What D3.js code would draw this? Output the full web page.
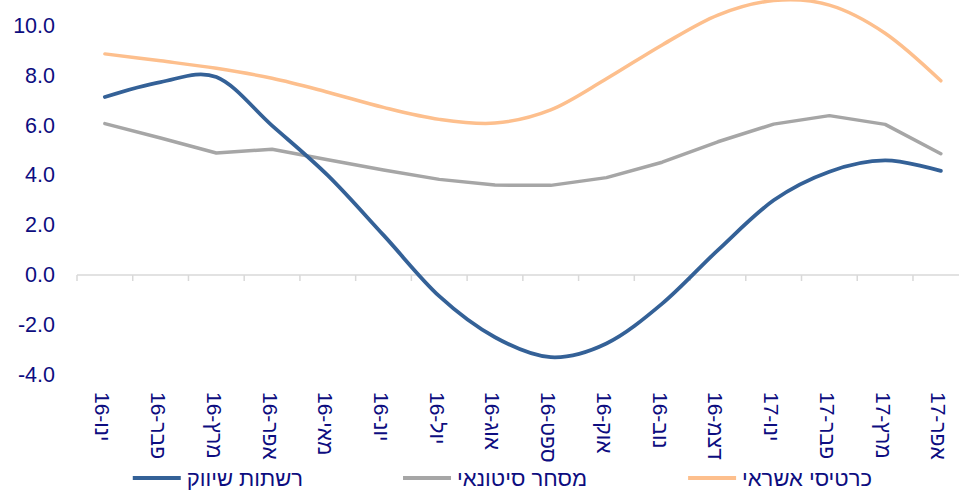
<!DOCTYPE html>
<html>
<head>
<meta charset="utf-8">
<script src="https://cdn.jsdelivr.net/npm/d3@7"></script>
<style>
  html, body { margin: 0; padding: 0; background: #fff; }
  svg { display: block; font-family: "Liberation Sans", Arial, sans-serif; }
</style>
</head>
<body>
<svg id="chart" width="959" height="491"></svg>
<script>
// Monthly categories (Hebrew month abbreviations)
const months = [
  "ינו-16", "פבר-16", "מרץ-16", "אפר-16", "מאי-16", "יונ-16", "יול-16", "אוג-16",
  "ספט-16", "אוק-16", "נוב-16", "דצמ-16", "ינו-17", "פבר-17", "מרץ-17", "אפר-17"
];

// Series values
const retailChains = [7.15, 7.75, 7.95, 6.0, 4.0, 1.6, -0.85, -2.5, -3.3, -2.75, -1.15, 1.0, 3.0, 4.15, 4.6, 4.18];
const wholesale    = [6.08, 5.5, 4.9, 5.05, 4.63, 4.22, 3.84, 3.61, 3.6, 3.91, 4.53, 5.35, 6.06, 6.4, 6.05, 4.87];
const creditCards  = [8.88, 8.6, 8.3, 7.9, 7.34, 6.73, 6.25, 6.1, 6.63, 7.88, 9.24, 10.44, 11.02, 10.84, 9.71, 7.8];

const yTicks = [-4, -2, 0, 2, 4, 6, 8, 10];

const seriesNames = ["רשתות שיווק", "מסחר סיטונאי", "כרטיסי אשראי"];
const seriesColors = ["#346197", "#a6a6a6", "#fdbf8d"];

const svg = d3.select("#chart");
const labelColor = "#0d0d80";

const x = d3.scaleBand().domain(months).range([77, 968.7]);
const y = d3.scaleLinear().domain([-4, 10]).range([374.6, 26]);

// Y tick labels (no axis line)
svg.append("g").selectAll("text")
  .data(yTicks)
  .join("text")
  .attr("x", 55)
  .attr("y", d => y(d))
  .attr("text-anchor", "end")
  .attr("dominant-baseline", "central")
  .attr("font-size", 21.5)
  .attr("fill", labelColor)
  .text(d => d.toFixed(1));

// X axis at zero, ticks on category boundaries
const xAxis = svg.append("g").attr("transform", `translate(0,${y(0)})`);
xAxis.append("line")
  .attr("x1", x.range()[0]).attr("x2", x.range()[1])
  .attr("stroke", "#d9d9d9").attr("stroke-width", 1.5);
const boundaries = months.map(m => x(m)).concat([x.range()[1]]);
xAxis.selectAll("line.tick")
  .data(boundaries)
  .join("line")
  .attr("class", "tick")
  .attr("x1", d => d).attr("x2", d => d)
  .attr("y1", 0).attr("y2", 6)
  .attr("stroke", "#d9d9d9").attr("stroke-width", 1.5);

// Rotated category labels
svg.append("g").selectAll("text")
  .data(months)
  .join("text")
  .attr("transform", d => `translate(${x(d) + x.bandwidth() / 2 - 2},392) rotate(90)`)
  .attr("text-anchor", "start")
  .attr("dominant-baseline", "central")
  .attr("font-size", 21)
  .attr("fill", labelColor)
  .text(d => d);

// Lines
const smooth = d3.line()
  .x((d, i) => x(months[i]) + x.bandwidth() / 2)
  .y(d => y(d))
  .curve(d3.curveCardinal.tension(0));
const straight = d3.line()
  .x((d, i) => x(months[i]) + x.bandwidth() / 2)
  .y(d => y(d));

const lines = [
  { data: wholesale, gen: straight, color: seriesColors[1], w: 3.5 },
  { data: creditCards, gen: smooth, color: seriesColors[2], w: 3.5 },
  { data: retailChains, gen: smooth, color: seriesColors[0], w: 3.8 }
];
svg.append("g").selectAll("path")
  .data(lines)
  .join("path")
  .attr("d", d => d.gen(d.data))
  .attr("fill", "none")
  .attr("stroke", d => d.color)
  .attr("stroke-width", d => d.w)
  .attr("stroke-linejoin", "round")
  .attr("stroke-linecap", "round");

// Legend
const legendItems = [
  { name: seriesNames[0], color: seriesColors[0], textEnd: 303 },
  { name: seriesNames[1], color: seriesColors[1], textEnd: 587 },
  { name: seriesNames[2], color: seriesColors[2], textEnd: 872 }
];
const legend = svg.append("g");
const items = legend.selectAll("g").data(legendItems).join("g");
items.append("text")
  .attr("x", d => d.textEnd)
  .attr("y", 478)
  .attr("text-anchor", "end")
  .attr("dominant-baseline", "central")
  .attr("font-size", 22)
  .attr("fill", labelColor)
  .text(d => d.name);
items.each(function(d) {
  const g = d3.select(this);
  const bb = g.select("text").node().getBBox();
  g.append("line")
    .attr("x1", bb.x - 54).attr("x2", bb.x - 6)
    .attr("y1", 478).attr("y2", 478)
    .attr("stroke", d.color).attr("stroke-width", 4);
});
</script>
</body>
</html>
